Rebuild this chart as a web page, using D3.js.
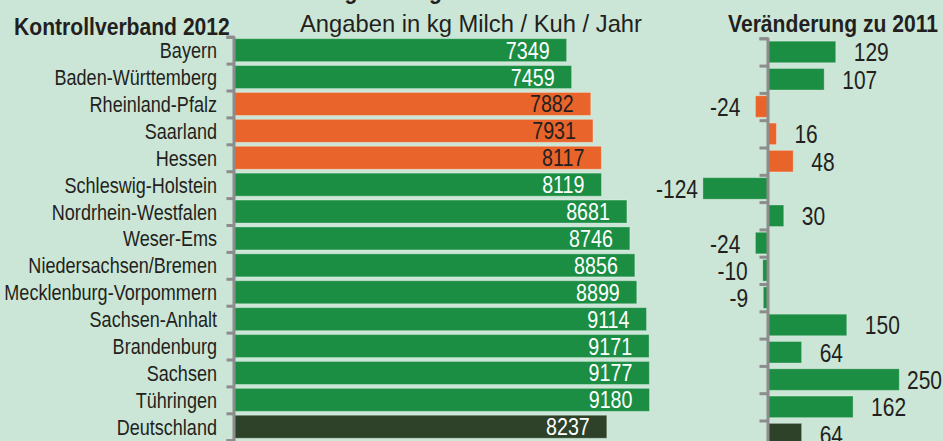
<!DOCTYPE html>
<html>
<head>
<meta charset="utf-8">
<script src="https://cdn.jsdelivr.net/npm/d3@7"></script>
<style>
  html, body { margin: 0; padding: 0; background: #cbe6d6; overflow: hidden; }
  svg { display: block; }
  text { font-family: "Liberation Sans", Arial, sans-serif; fill: #231f20; }
</style>
</head>
<body>
<svg id="chart" width="943" height="441"></svg>
<script>
const categories = ["Bayern","Baden-Württemberg","Rheinland-Pfalz","Saarland","Hessen","Schleswig-Holstein","Nordrhein-Westfalen","Weser-Ems","Niedersachsen/Bremen","Mecklenburg-Vorpommern","Sachsen-Anhalt","Brandenburg","Sachsen","Tühringen","Deutschland"];
const milk2012 = [7349,7459,7882,7931,8117,8119,8681,8746,8856,8899,9114,9171,9177,9180,8237];
const change2011 = [129,107,-24,16,48,-124,30,-24,-10,-9,150,64,250,162,64];
const barGroup = ["g","g","o","o","o","g","g","g","g","g","g","g","g","g","d"];
const leftTitle = "Kontrollverband 2012";
const subTitle = "Angaben in kg Milch / Kuh / Jahr";
const rightTitle = "Veränderung zu 2011";
const mainTitle = "Milchleistung der Regionen";

const colors = { g: "#1b8e43", o: "#e9642a", d: "#2d4228" };
const labelColors = { g: "#ffffff", o: "#231f20", d: "#ffffff" };

const rows = categories.map((c, i) => ({ cat: c, milk: milk2012[i], chg: change2011[i], grp: barGroup[i], i }));

const svg = d3.select("#chart");
svg.append("rect").attr("width", 943).attr("height", 441).attr("fill", "#cbe6d6");

function place(sel, fx, fy, fsx) {
  return sel.attr("transform", (d, i) => `translate(${fx(d, i)},${fy(d, i)}) scale(${fsx(d, i)},1)`);
}

// ---------- Left chart ----------
const yL = d3.scaleBand().domain(categories).range([36.7, 440.2]).paddingInner(0.145).paddingOuter(0.0725);
const yIdxL = d3.scaleLinear().domain([0, categories.length]).range([36.7, 440.2]);
const xL = d3.scaleLinear().domain([0, 9180]).range([234, 649.5]);

svg.append("g").selectAll("rect").data(rows).join("rect")
  .attr("x", xL(0))
  .attr("y", d => yL(d.cat))
  .attr("width", d => xL(d.milk) - xL(0))
  .attr("height", yL.bandwidth())
  .attr("fill", d => colors[d.grp])
  .attr("stroke", "rgba(255,255,255,0.3)")
  .attr("stroke-width", 1);

place(svg.append("g").selectAll("text").data(rows).join("text"),
    d => xL(d.milk) - 17, d => yL(d.cat) + yL.bandwidth() / 2 + 8.5, () => 0.82)
  .attr("text-anchor", "end")
  .style("font-size", "24px")
  .style("fill", d => labelColors[d.grp])
  .text(d => d.milk);

place(svg.append("g").selectAll("text").data(rows).join("text"),
    () => 217, d => yL(d.cat) + yL.bandwidth() / 2 + 8, () => 0.84)
  .attr("text-anchor", "end")
  .style("font-size", "21.5px")
  .text(d => d.cat);

const axL = svg.append("g").attr("transform", "translate(233.5,0)")
  .call(d3.axisLeft(yIdxL).tickValues(d3.range(categories.length + 1)).tickSize(7).tickSizeOuter(7).tickFormat(""));
axL.select(".domain").attr("stroke", "#8c8c8c").attr("stroke-width", 3).attr("stroke-linejoin", "round").attr("fill", "none");
axL.selectAll(".tick line").attr("stroke", "#8c8c8c").attr("stroke-width", 3);

// ---------- Right chart ----------
const yR = d3.scaleBand().domain(categories).range([38.3, 447.8]).paddingInner(0.21).paddingOuter(0.105);
const yIdxR = d3.scaleLinear().domain([0, categories.length]).range([38.3, 447.8]);
const xR = d3.scaleLinear().domain([-124, 250]).range([702.9, 899.3]);

svg.append("g").selectAll("rect").data(rows).join("rect")
  .attr("x", d => Math.min(xR(0), xR(d.chg)))
  .attr("y", d => yR(d.cat))
  .attr("width", d => Math.abs(xR(d.chg) - xR(0)))
  .attr("height", yR.bandwidth())
  .attr("fill", d => colors[d.grp])
  .attr("stroke", "rgba(255,255,255,0.3)")
  .attr("stroke-width", 1);

place(svg.append("g").selectAll("text").data(rows).join("text"),
    d => d.chg >= 0 ? Math.min(xR(d.chg) + 18, 907) : Math.max(xR(d.chg) - 15, 698),
    d => yR(d.cat) + yR.bandwidth() / 2 + 9.5, () => 0.84)
  .attr("text-anchor", d => d.chg >= 0 ? "start" : "end")
  .style("font-size", "25px")
  .text(d => d.chg);

const axR = svg.append("g").attr("transform", "translate(767.5,0)")
  .call(d3.axisLeft(yIdxR).tickValues(d3.range(categories.length + 1)).tickSize(8).tickSizeOuter(8).tickFormat(""));
axR.select(".domain").attr("stroke", "#8c8c8c").attr("stroke-width", 3).attr("stroke-linejoin", "round").attr("fill", "none");
axR.selectAll(".tick line").attr("stroke", "#8c8c8c").attr("stroke-width", 3);

// ---------- Titles ----------
const titles = [
  { t: mainTitle, x: 222.5, y: -1, size: 24, bold: true, sx: 0.88 },
  { t: leftTitle, x: 14, y: 35, size: 24, bold: true, sx: 0.88 },
  { t: subTitle, x: 300, y: 32, size: 24, bold: false, sx: 0.99 },
  { t: rightTitle, x: 728, y: 32, size: 24, bold: true, sx: 0.88 }
];
place(svg.append("g").selectAll("text").data(titles).join("text"), d => d.x, d => d.y, d => d.sx)
  .attr("text-anchor", "start")
  .style("font-size", d => d.size + "px")
  .style("font-weight", d => d.bold ? "bold" : "normal")
  .text(d => d.t);
</script>
</body>
</html>
